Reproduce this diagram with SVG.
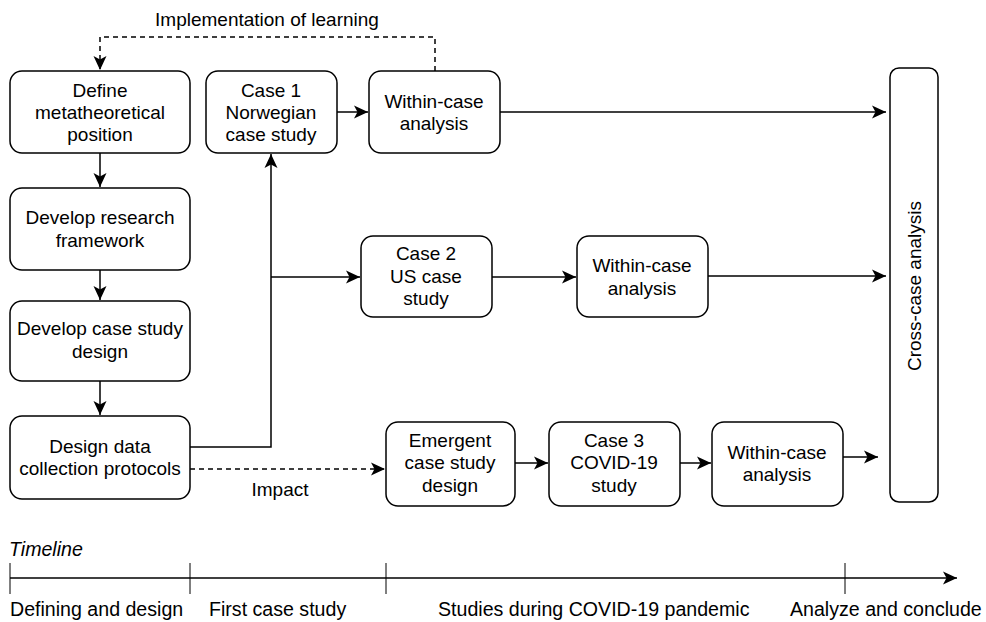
<svg xmlns="http://www.w3.org/2000/svg" width="986" height="622" viewBox="0 0 986 622">
  <style>
    .box { fill: #ffffff; stroke: #000000; stroke-width: 1.5; }
    .lbl { font-family: "Liberation Sans", Arial, sans-serif; font-size: 19px; fill: #000000; text-anchor: middle; }
    .txt { font-family: "Liberation Sans", Arial, sans-serif; font-size: 19.6px; fill: #000000; }
    .edge { fill: none; stroke: #000000; stroke-width: 1.5; }
    .dash { stroke-dasharray: 5 4; }
    .tick { stroke: #000000; stroke-width: 1; }
  </style>
  <defs>
    <marker id="arrow" markerUnits="userSpaceOnUse" markerWidth="16" markerHeight="16" refX="14" refY="7.5" orient="auto">
      <path d="M0,1 L14,7.5 L0,14 L3.5,7.5 Z" fill="#000000"/>
    </marker>
  </defs>

  <rect width="986" height="622" fill="#ffffff"/>

  <!-- connectors -->
  <g id="connectors">
    <path class="edge" d="M100,153 V187" marker-end="url(#arrow)"/>
    <path class="edge" d="M100,270 V300" marker-end="url(#arrow)"/>
    <path class="edge" d="M100,381 V415" marker-end="url(#arrow)"/>
    <path class="edge" d="M190,447 H271 V154" marker-end="url(#arrow)"/>
    <path class="edge" d="M271,277 H360" marker-end="url(#arrow)"/>
    <path class="edge" d="M337,112 H368" marker-end="url(#arrow)"/>
    <path class="edge" d="M500,112 H886" marker-end="url(#arrow)"/>
    <path class="edge" d="M492,277 H576" marker-end="url(#arrow)"/>
    <path class="edge" d="M708,276 H886" marker-end="url(#arrow)"/>
    <path class="edge dash" d="M190,469 H385" marker-end="url(#arrow)"/>
    <path class="edge" d="M515,463 H548" marker-end="url(#arrow)"/>
    <path class="edge" d="M680,463 H711" marker-end="url(#arrow)"/>
    <path class="edge" d="M843,457 H878" marker-end="url(#arrow)"/>
    <path class="edge dash" d="M435,71 V37 H100 V70" marker-end="url(#arrow)"/>
    <text class="lbl" x="267" y="26">Implementation of learning</text>
    <text class="lbl" x="280" y="496">Impact</text>
  </g>

  <!-- process nodes -->
  <g id="define-position">
    <rect class="box" x="10" y="71" width="180" height="82" rx="12"/>
    <text class="lbl" x="100" y="97">Define</text>
    <text class="lbl" x="100" y="119">metatheoretical</text>
    <text class="lbl" x="100" y="141">position</text>
  </g>
  <g id="research-framework">
    <rect class="box" x="10" y="188" width="180" height="82" rx="12"/>
    <text class="lbl" x="100" y="224">Develop research</text>
    <text class="lbl" x="100" y="247">framework</text>
  </g>
  <g id="case-study-design">
    <rect class="box" x="10" y="301" width="180" height="80" rx="12"/>
    <text class="lbl" x="100" y="335">Develop case study</text>
    <text class="lbl" x="100" y="358">design</text>
  </g>
  <g id="data-collection">
    <rect class="box" x="10" y="416" width="180" height="83" rx="12"/>
    <text class="lbl" x="100" y="453">Design data</text>
    <text class="lbl" x="100" y="475">collection protocols</text>
  </g>

  <g id="case1">
    <rect class="box" x="206" y="71" width="131" height="82" rx="12"/>
    <text class="lbl" x="271" y="97">Case 1</text>
    <text class="lbl" x="271" y="119">Norwegian</text>
    <text class="lbl" x="271" y="141">case study</text>
  </g>
  <g id="within1">
    <rect class="box" x="369" y="71" width="131" height="82" rx="12"/>
    <text class="lbl" x="434" y="108">Within-case</text>
    <text class="lbl" x="434" y="130">analysis</text>
  </g>

  <g id="case2">
    <rect class="box" x="361" y="236" width="131" height="81" rx="12"/>
    <text class="lbl" x="426" y="260">Case 2</text>
    <text class="lbl" x="426" y="283">US case</text>
    <text class="lbl" x="426" y="305">study</text>
  </g>
  <g id="within2">
    <rect class="box" x="577" y="236" width="131" height="81" rx="12"/>
    <text class="lbl" x="642" y="272">Within-case</text>
    <text class="lbl" x="642" y="295">analysis</text>
  </g>

  <g id="emergent-design">
    <rect class="box" x="386" y="422" width="129" height="84" rx="12"/>
    <text class="lbl" x="450" y="447">Emergent</text>
    <text class="lbl" x="450" y="469">case study</text>
    <text class="lbl" x="450" y="492">design</text>
  </g>
  <g id="case3">
    <rect class="box" x="549" y="422" width="131" height="84" rx="12"/>
    <text class="lbl" x="614" y="447">Case 3</text>
    <text class="lbl" x="614" y="469">COVID-19</text>
    <text class="lbl" x="614" y="492">study</text>
  </g>
  <g id="within3">
    <rect class="box" x="712" y="422" width="131" height="84" rx="12"/>
    <text class="lbl" x="777" y="459">Within-case</text>
    <text class="lbl" x="777" y="481">analysis</text>
  </g>

  <g id="cross-case">
    <rect class="box" x="890" y="68" width="48" height="434" rx="9"/>
    <text class="lbl" transform="translate(921,286) rotate(-90)" x="0" y="0">Cross-case analysis</text>
  </g>

  <!-- timeline -->
  <g id="timeline">
    <text class="txt" x="9" y="556" font-style="italic">Timeline</text>
    <path class="edge" d="M10,578 H957" marker-end="url(#arrow)"/>
    <line class="tick" x1="10" y1="563" x2="10" y2="594"/>
    <line class="tick" x1="190" y1="563" x2="190" y2="594"/>
    <line class="tick" x1="386" y1="563" x2="386" y2="594"/>
    <line class="tick" x1="845" y1="563" x2="845" y2="594"/>
    <text class="txt" x="10" y="616">Defining and design</text>
    <text class="txt" x="209" y="616">First case study</text>
    <text class="txt" x="438" y="616">Studies during COVID-19 pandemic</text>
    <text class="txt" x="790" y="616">Analyze and conclude</text>
  </g>
</svg>
